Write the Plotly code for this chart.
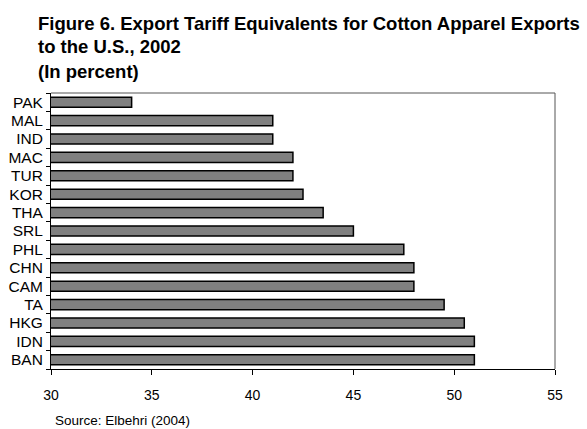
import plotly.graph_objects as go

# Export tariff equivalents, cotton apparel exports to the U.S., 2002 (percent)
countries = ["PAK", "MAL", "IND", "MAC", "TUR", "KOR", "THA", "SRL",
             "PHL", "CHN", "CAM", "TA", "HKG", "IDN", "BAN"]
tariff_pct = [34, 41, 41, 42, 42, 42.5, 43.5, 45,
              47.5, 48, 48, 49.5, 50.5, 51, 51]
x_ticks = [30, 35, 40, 45, 50, 55]

title_lines = [
    "Figure 6. Export Tariff Equivalents for Cotton Apparel Exports",
    "to the U.S., 2002",
    "(In percent)",
]
source_note = "Source: Elbehri (2004)"

font_family = "Liberation Sans, Arial, sans-serif"
W, H = 587, 429
M = dict(l=51, r=32, t=93, b=60, autoexpand=False)
plot_h = H - M["t"] - M["b"]
plot_w = W - M["l"] - M["r"]


def px_to_paper_y(py):
    return 1 - (py - M["t"]) / plot_h


def px_to_paper_x(px):
    return (px - M["l"]) / plot_w


fig = go.Figure(
    go.Bar(
        x=tariff_pct,
        y=countries,
        orientation="h",
        marker=dict(color="#808080", line=dict(color="#000000", width=1.5)),
        hoverinfo="x+y",
    )
)

annotations = []
# title, one line per annotation so the line spacing stays fixed
for i, line in enumerate(title_lines):
    annotations.append(dict(
        text=f"<b>{line}</b>", xref="paper", yref="paper",
        x=px_to_paper_x(36), xanchor="left",
        y=px_to_paper_y(23 + 24 * i), yanchor="middle",
        showarrow=False,
        font=dict(family=font_family, size=18.5, color="#000000"),
    ))
annotations.append(dict(
    text=source_note, xref="paper", yref="paper",
    x=px_to_paper_x(53), xanchor="left",
    y=px_to_paper_y(420), yanchor="middle",
    showarrow=False, font=dict(size=13.5, color="#000000"),
))

fig.update_layout(
    width=W,
    height=H,
    margin=M,
    paper_bgcolor="white",
    plot_bgcolor="white",
    bargap=0.45,
    showlegend=False,
    font=dict(family=font_family, size=12, color="#000000"),
    xaxis=dict(
        range=[30, 55],
        tickvals=x_ticks,
        ticktext=[str(v) for v in x_ticks],
        ticks="outside",
        ticklen=5,
        tickcolor="#000000",
        ticklabelstandoff=8,
        showline=True,
        linecolor="#000000",
        linewidth=1,
        showgrid=False,
        zeroline=False,
        automargin=False,
        tickfont=dict(size=14),
    ),
    yaxis=dict(
        categoryorder="array",
        categoryarray=countries,
        autorange="reversed",
        tickmode="array",
        tickvals=countries,
        ticktext=countries,
        tickson="boundaries",
        ticks="outside",
        ticklen=4,
        tickcolor="#000000",
        ticklabelstandoff=4,
        showline=True,
        linecolor="#000000",
        linewidth=1,
        showgrid=False,
        automargin=False,
        tickfont=dict(size=15.5),
    ),
    shapes=[
        dict(type="line", xref="paper", yref="paper", x0=0, x1=1, y0=1, y1=1,
             line=dict(color="#555555", width=1)),
        dict(type="line", xref="paper", yref="paper", x0=1, x1=1, y0=0, y1=1,
             line=dict(color="#555555", width=1)),
    ],
    annotations=annotations,
)

fig.write_html("out.html")
